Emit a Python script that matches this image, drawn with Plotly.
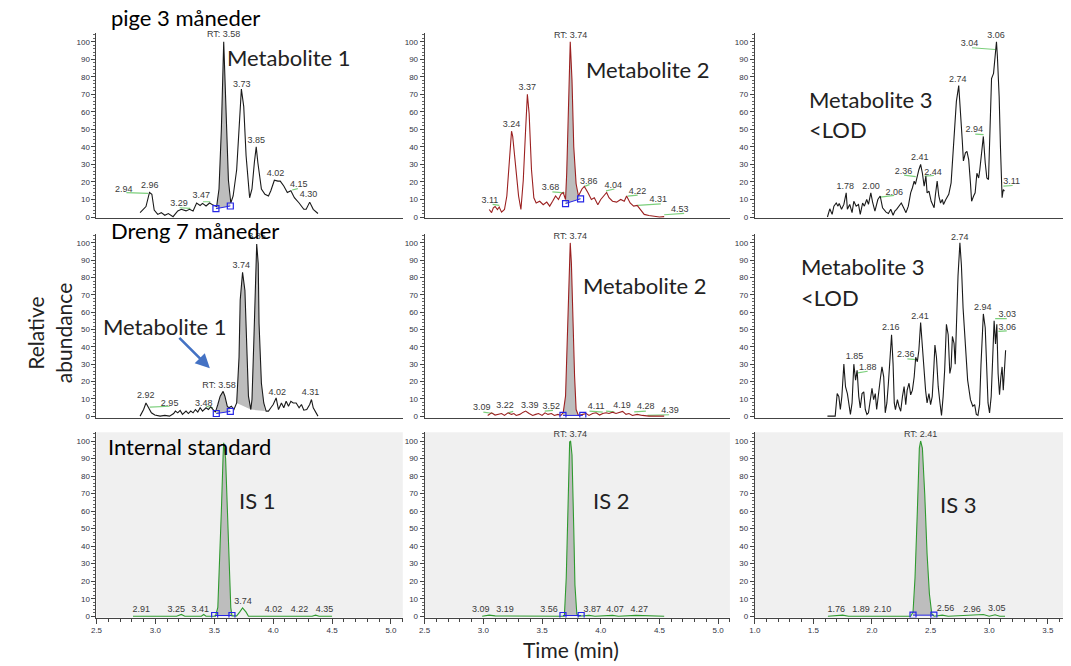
import plotly.graph_objects as go

W, H = 1071, 666
OFF = 0

# ---------------- data (time in min, relative abundance %) ----------------
# Panel 1: pige 3 måneder, Metabolite 1
p1_t = [2.87, 2.92, 2.95, 2.97, 2.99, 3.02, 3.05, 3.08, 3.11, 3.15, 3.19, 3.22, 3.26, 3.29, 3.32, 3.35,
        3.38, 3.40, 3.43, 3.46, 3.49, 3.52, 3.54, 3.56, 3.58, 3.60, 3.62, 3.64, 3.66, 3.69, 3.72, 3.73,
        3.75, 3.77, 3.80, 3.82, 3.84, 3.856, 3.87, 3.90, 3.93, 3.96, 3.98, 4.01, 4.04, 4.06, 4.09, 4.12,
        4.15, 4.18, 4.22, 4.26, 4.28, 4.31, 4.34, 4.38]
p1_v = [2.5, 6, 14, 13, 4, 1.5, 2.5, 1, 2, 0.2, 3.5, 4.4, 3.5, 4.4, 3.4, 8,
        6.6, 7.8, 6.3, 8, 6.8, 6, 16, 50, 100, 60, 21, 8, 12, 27, 63, 73,
        63, 35, 11, 16, 31, 40, 31, 16, 13, 12, 15, 21, 20.5, 20.5, 17.7, 14,
        15, 11, 8, 4.4, 4.4, 8.5, 4.4, 2]
p1_sq_t = [3.514, 3.636]
p1_sq_v = [4.75, 6.3]
p1_lbl_t = [3.58, 3.734, 3.856, 4.02, 4.217, 4.30, 2.732, 2.952, 3.20, 3.39]
p1_lbl_v = [103.8, 75.7, 43.3, 24.9, 18.3, 12.5, 15.8, 17.7, 7.8, 12.0]
p1_lbl = ["RT: 3.58", "3.73", "3.85", "4.02", "4.15", "4.30", "2.94", "2.96", "3.29", "3.47"]
p1_gr = [(2.754, 13.9, 2.938, 13.5), (3.206, 5.3, 3.297, 4.9), (3.404, 8.7, 3.466, 8.7), (4.161, 15.4, 4.209, 16.2)]

# Panel 2: pige 3 måneder, Metabolite 2
p2_t = [3.05, 3.07, 3.085, 3.10, 3.12, 3.135, 3.155, 3.18, 3.20, 3.22, 3.24, 3.25, 3.28, 3.30, 3.32, 3.34,
        3.36, 3.375, 3.39, 3.41, 3.43, 3.45, 3.48, 3.51, 3.54, 3.565, 3.59, 3.615, 3.64, 3.66, 3.68, 3.70,
        3.71, 3.725, 3.74, 3.755, 3.77, 3.79, 3.81, 3.84, 3.86, 3.89, 3.92, 3.945, 3.975, 4.00, 4.025, 4.05,
        4.07, 4.10, 4.135, 4.17, 4.20, 4.22, 4.25, 4.28, 4.31, 4.34, 4.37, 4.41, 4.455, 4.50, 4.54]
p2_v = [4.3, 2.5, 5.3, 6, 4.3, 5.7, 2.8, 4.3, 12, 31, 49, 46, 27, 12, 4.3, 21,
        50, 70, 59, 27, 11, 8, 9, 7, 8.5, 6.2, 9, 12, 10, 13, 14, 10,
        25, 59, 100, 78, 40, 19, 12, 16, 17.5, 14, 10, 11, 7, 10, 12, 14,
        11, 9, 8.5, 10, 9, 12, 8, 6.2, 6.6, 4.3, 1.5, 0.9, 0.6, 0, 0.2]
p2_sq_t = [3.70, 3.828]
p2_sq_v = [7.7, 10.4]
p2_lbl_t = [3.743, 3.24, 3.373, 3.056, 3.571, 3.898, 4.107, 4.314, 4.489, 4.672]
p2_lbl_v = [103.4, 52.5, 73.6, 9.1, 16.8, 20.4, 17.9, 14.2, 9.6, 4.0]
p2_lbl = ["RT: 3.74", "3.24", "3.37", "3.11", "3.68", "3.86", "4.04", "4.22", "4.31", "4.53"]
p2_gr = [(3.079, 7.2, 3.136, 6.6), (3.588, 14.3, 3.692, 13.8), (3.861, 17.5, 3.904, 18.5),
         (4.045, 14.9, 4.116, 16.0), (4.229, 11.9, 4.314, 12.5), (4.314, 6.6, 4.511, 7.5), (4.54, 1.3, 4.71, 2.1)]

# Panel 3: pige 3 måneder, Metabolite 3
p3_t = [1.62, 1.63, 1.64, 1.66, 1.675, 1.695, 1.71, 1.72, 1.74, 1.76, 1.78, 1.79, 1.81, 1.83, 1.845, 1.865,
        1.885, 1.90, 1.92, 1.935, 1.955, 1.97, 1.99, 2.005, 2.025, 2.05, 2.07, 2.09, 2.12, 2.14, 2.16, 2.18,
        2.195, 2.21, 2.23, 2.25, 2.27, 2.29, 2.31, 2.33, 2.345, 2.36, 2.37, 2.385, 2.40, 2.415, 2.43, 2.445,
        2.46, 2.47, 2.486, 2.505, 2.53, 2.54, 2.556, 2.57, 2.585, 2.60, 2.61, 2.63, 2.655, 2.675, 2.69, 2.706,
        2.72, 2.74, 2.754, 2.77, 2.78, 2.797, 2.81, 2.825, 2.84, 2.85, 2.867, 2.88, 2.895, 2.91, 2.92, 2.94,
        2.95, 2.966, 2.98, 2.994, 3.01, 3.02, 3.037, 3.05, 3.062, 3.07, 3.085, 3.096, 3.105, 3.11, 3.12, 3.13]
p3_v = [0, 3.4, 4.7, 1.5, 6.2, 8, 6.2, 7.8, 4.4, 7.2, 13.8, 4.4, 7.2, 2.5, 9, 6.2,
        7.2, 1.5, 8, 6.2, 10, 7.2, 13.8, 8.5, 3.4, 10, 12, 5.3, 2.8, 2, 4.4, 1,
        3.4, 4.4, 6.2, 8, 5.3, 2.5, 6.2, 13.8, 16.7, 20.5, 18.6, 23.3, 27, 30, 25, 17.6,
        23.3, 13.8, 14.8, 9, 5.3, 12, 20.5, 12, 8, 10, 7.2, 10, 13, 19.5, 34.7, 53.6,
        66, 75, 63, 44, 32, 36.6, 37.5, 32.8, 19.5, 9, 12, 13.8, 25, 22.3, 27, 42,
        46, 31, 22.3, 21.4, 64, 79, 82, 90.5, 100, 91.5, 68.7, 40, 20.5, 11, 15.7, 14.8]
p3_lbl_t = [3.059, 2.833, 2.732, 2.873, 2.407, 2.268, 2.52, 1.771, 1.992, 2.189, 3.192]
p3_lbl_v = [103.4, 98.7, 78.2, 49.8, 33.7, 25.6, 25.2, 17.0, 17.0, 13.8, 19.9]
p3_lbl = ["3.06", "3.04", "2.74", "2.94", "2.41", "2.36", "2.44", "1.78", "2.00", "2.06", "3.11"]
p3_gr = [(2.853, 96.6, 3.051, 95.6), (2.881, 47.3, 2.952, 47.0), (2.274, 23.9, 2.373, 23.1),
         (2.449, 23.3, 2.528, 23.7), (2.071, 11.4, 2.189, 12.3), (3.121, 17.6, 3.20, 18.0)]

# Panel 4: Dreng 7 måneder, Metabolite 1
p4_t = [2.87, 2.90, 2.92, 2.94, 2.966, 2.995, 3.04, 3.08, 3.12, 3.155, 3.17, 3.19, 3.21, 3.23, 3.26, 3.28,
        3.30, 3.32, 3.34, 3.36, 3.38, 3.40, 3.43, 3.45, 3.47, 3.49, 3.51, 3.53, 3.55, 3.575, 3.59, 3.61,
        3.625, 3.645, 3.667, 3.69, 3.71, 3.72, 3.74, 3.76, 3.777, 3.79, 3.81, 3.82, 3.836, 3.85, 3.86, 3.873,
        3.88, 3.90, 3.92, 3.94, 3.96, 3.98, 4.00, 4.025, 4.045, 4.07, 4.09, 4.11, 4.13, 4.15, 4.17, 4.195,
        4.22, 4.24, 4.26, 4.285, 4.31, 4.325, 4.34, 4.38]
p4_v = [0, 3.8, 7.6, 4.8, 1.9, 0.6, 0, 0.4, 0, 1.5, 2.9, 1.9, 3.3, 1, 2.9, 1.5,
        2.9, 1.9, 3.8, 2.3, 4.8, 2.9, 4.8, 3.8, 5.3, 3.8, 2.3, 6.7, 11.5, 14.3, 11.5, 5.7,
        4.8, 5.7, 3.8, 7.6, 34, 67, 83, 72.5, 38, 11.5, 3.8, 9.6, 44, 82, 99.4, 88,
        53.5, 19, 7.6, 2.9, 2.9, 4.8, 6.7, 10.5, 3.8, 7.6, 4.8, 8.6, 5.7, 8.6, 7.6, 7.6,
        4.8, 6.7, 3.4, 3.8, 6.7, 9.6, 4.8, 0]
p4_sq_t = [3.517, 3.636]
p4_sq_v = [1.5, 2.7]
p4_big_t = [3.69, 3.81, 3.93]
p4_big_v = [7.6, 3.8, 2.9]
p4_lbl_t = [3.862, 3.54, 3.729, 2.918, 3.121, 3.41, 4.034, 4.316]
p4_lbl_v = [103.3, 17.8, 87.0, 11.5, 7.1, 7.1, 13.4, 13.4]
p4_lbl = ["3.85", "RT: 3.58", "3.74", "2.92", "2.95", "3.48", "4.02", "4.31"]
p4_gr = [(2.952, 5.2, 3.121, 5.7), (3.432, 5.7, 3.489, 4.8)]

# Panel 5: Dreng 7 måneder, Metabolite 2
p5_t = [3.037, 3.07, 3.10, 3.127, 3.155, 3.18, 3.21, 3.24, 3.26, 3.28, 3.31, 3.34, 3.36, 3.39, 3.42, 3.446,
        3.47, 3.50, 3.525, 3.55, 3.58, 3.605, 3.635, 3.66, 3.68, 3.70, 3.715, 3.73, 3.74, 3.75, 3.763, 3.777,
        3.79, 3.81, 3.847, 3.876, 3.90, 3.93, 3.96, 3.99, 4.017, 4.045, 4.07, 4.10, 4.13, 4.16, 4.186, 4.215,
        4.24, 4.27, 4.31, 4.355, 4.41, 4.54]
p5_v = [0.4, 1.9, 0.6, 1, 1.5, 0.4, 1.9, 1, 1.5, 0.4, 1, 2.3, 2.9, 1.5, 0.4, 1,
        1.5, 0.4, 1.9, 1, 1.5, 0.4, 1, 0.4, 1.9, 11.5, 44, 88, 100, 88, 53.5, 23,
        3.8, 0.4, 1, 1.5, 0.4, 1.5, 1.9, 0.6, 1.5, 1.9, 1.5, 2.3, 1.5, 2.3, 2.7, 1,
        1.5, 0.4, 1, 0.4, 0, 0]
p5_sq_t = [3.678, 3.847]
p5_sq_v = [0.4, 0.4]
p5_lbl_t = [3.74, 2.986, 3.184, 3.395, 3.579, 3.96, 4.181, 4.384, 4.59]
p5_lbl_v = [103.6, 4.8, 5.7, 6.1, 5.4, 5.4, 6.1, 5.4, 2.9]
p5_lbl = ["RT: 3.74", "3.09", "3.22", "3.39", "3.52", "4.11", "4.19", "4.28", "4.39"]
p5_gr = [(3.0, 2.3, 3.085, 1.5), (3.212, 1.9, 3.254, 2.7), (3.523, 2.9, 3.593, 3.3), (3.904, 2.9, 4.017, 2.3),
         (4.045, 2.9, 4.116, 2.5), (4.285, 2.5, 4.384, 2.9), (4.398, 0.4, 4.582, 0.8)]

# Panel 6: Dreng 7 måneder, Metabolite 3
p6_t = [1.62, 1.686, 1.703, 1.717, 1.73, 1.743, 1.76, 1.774, 1.79, 1.80, 1.816, 1.83, 1.845, 1.86, 1.873, 1.887,
        1.90, 1.915, 1.93, 1.943, 1.957, 1.97, 1.986, 2.00, 2.014, 2.028, 2.04, 2.056, 2.07, 2.085, 2.10, 2.113,
        2.127, 2.14, 2.155, 2.167, 2.18, 2.19, 2.20, 2.217, 2.23, 2.245, 2.26, 2.274, 2.288, 2.30, 2.316, 2.33,
        2.345, 2.36, 2.373, 2.387, 2.40, 2.415, 2.43, 2.443, 2.457, 2.47, 2.486, 2.50, 2.514, 2.528, 2.537, 2.55,
        2.565, 2.58, 2.593, 2.607, 2.62, 2.635, 2.65, 2.664, 2.675, 2.686, 2.70, 2.71, 2.72, 2.734, 2.75, 2.763,
        2.777, 2.797, 2.816, 2.84, 2.86, 2.876, 2.89, 2.904, 2.918, 2.93, 2.94, 2.95, 2.966, 2.98, 2.99, 3.003,
        3.017, 3.03, 3.042, 3.054, 3.065, 3.076, 3.088, 3.10, 3.11, 3.12, 3.133, 3.14]
p6_v = [0, 0, 13, 11.4, 3.8, 11.4, 30, 17, 13, 7.6, 1, 7.6, 30, 20.8, 26.5, 11.4,
        4.7, 13, 14, 3.8, 1, 1.9, 9.5, 16, 9.5, 13, 3.8, 14, 21, 28.4, 22.7, 1.9,
        7.6, 19, 34, 47, 30, 7.6, 3.8, 9.5, 5.7, 2.8, 11.4, 17, 6.6, 15, 19, 12.3,
        15, 22.7, 34, 31.4, 38, 54, 40, 26.5, 15, 7.6, 13, 6.6, 11.4, 28.4, 41, 34,
        17, 7.6, 0.4, 11.4, 26.5, 53, 47, 24.6, 28.4, 46, 42, 30, 53, 81, 100, 87,
        62.5, 38, 20.8, 9.5, 5.7, 6.6, 1, 0.4, 6.6, 30, 51, 59, 51, 30, 7.6, 1.9,
        11.4, 34, 55, 41.7, 53, 24.6, 12.3, 22.7, 28.4, 15, 34, 38]
p6_lbl_t = [2.749, 2.944, 3.155, 3.155, 2.41, 2.161, 2.288, 1.85, 1.963]
p6_lbl_v = [103.2, 62.5, 58.7, 51.1, 57.2, 50.8, 35.4, 34.1, 27.8]
p6_lbl = ["2.74", "2.94", "3.03", "3.06", "2.41", "2.16", "2.36", "1.85", "1.88"]
p6_gr = [(3.051, 56.3, 3.15, 56.3), (3.079, 48.9, 3.15, 49.2), (2.302, 33.1, 2.381, 32.6), (1.879, 25.0, 1.963, 25.9)]

# Panel 7: Internal standard 1
p7_t = [2.81, 3.18, 3.22, 3.25, 3.39, 3.41, 3.43, 3.51, 3.53, 3.545, 3.56, 3.575, 3.58, 3.596, 3.61, 3.624,
        3.64, 3.65, 3.69, 3.715, 3.74, 3.77, 3.79, 4.33, 4.36, 4.39, 4.50]
p7_v = [0, 0, 1, 0, 0, 1, 0, 0, 5, 28, 60, 92, 99, 90, 60, 28,
        5, 0.2, 0.2, 2.3, 4.7, 2.3, 0, 0, 0.6, 0, 0]
p7_sq_t = [3.503, 3.65]
p7_sq_v = [0.4, 0.4]
p7_lbl_t = [2.881, 3.178, 3.381, 3.743, 4.003, 4.223, 4.435]
p7_lbl_v = [3.6, 3.6, 3.6, 8.5, 3.6, 3.6, 3.6]
p7_lbl = ["2.91", "3.25", "3.41", "3.74", "4.02", "4.22", "4.35"]

# Panel 8: Internal standard 2
p8_t = [2.99, 3.05, 3.10, 3.60, 3.69, 3.706, 3.72, 3.735, 3.743, 3.755, 3.77, 3.78, 3.796, 3.81, 3.90, 3.95,
        4.10, 4.15, 4.30, 4.54]
p8_v = [0, 0.6, 0.2, 0, 0, 22, 69, 99.5, 100, 92, 50, 18, 1.3, 0, 0.5, 0,
        0.5, 0, 0.5, 0]
p8_sq_t = [3.678, 3.833]
p8_sq_v = [0.4, 0.4]
p8_lbl_t = [3.74, 2.977, 3.184, 3.559, 3.927, 4.121, 4.328]
p8_lbl_v = [103.8, 3.6, 3.6, 3.6, 3.6, 3.6, 3.6]
p8_lbl = ["RT: 3.74", "3.09", "3.19", "3.56", "3.87", "4.07", "4.27"]

# Panel 9: Internal standard 3
p9_t = [1.624, 1.75, 1.80, 2.33, 2.35, 2.367, 2.387, 2.404, 2.415, 2.43, 2.45, 2.47, 2.49, 2.51, 2.53, 2.60,
        2.65, 2.85, 2.95, 3.00, 3.05, 3.09, 3.135]
p9_v = [0, 0.6, 0, 0, 2.3, 22, 60, 96, 100, 96, 69.6, 35.5, 12.7, 1.3, 0, 0.6,
        0, 0.4, 1, 0, 0.8, 0, 0]
p9_sq_t = [2.35, 2.528]
p9_sq_v = [0.6, 0.6]
p9_lbl_t = [2.415, 1.695, 1.907, 2.09, 2.627, 2.853, 3.065]
p9_lbl_v = [103.8, 3.6, 3.6, 3.6, 4.2, 3.6, 4.2]
p9_lbl = ["RT: 2.41", "1.76", "1.89", "2.10", "2.56", "2.96", "3.05"]

x_range_a = [2.5, 5.1]
x_range_b = [1.0, 3.63]
y_range = [-0.8, 105]

# ---------------- styling ----------------
BLACK = "#1a1a1a"
DRED = "#9b2020"
GREEN = "#2f9a2f"
FILL = "#bdbdbd"
LEAD = "#7ccf7c"
BLUE = "#2626e6"
LBLC = "#3a3a3a"
LFONT = "Liberation Sans, Arial, sans-serif"
BFONT = "Lato, Open Sans, sans-serif"

fig = go.Figure()

# reference-pixel geometry of the panels
col_px = [(91, 399), (421, 728), (753, 1063)]
row_px = [(218, 1.76), (418, 1.74), (619, 1.76)]  # (pixel of y=0, px per unit)


def fx(px):
    return (px - OFF) / W


def fy(py):
    return 1 - (py - OFF) / H


def xref_name(i):
    return "x" if i == 1 else f"x{i}"


def yref_name(i):
    return "y" if i == 1 else f"y{i}"


def add_line(i, t, v, color, width=1.1):
    fig.add_trace(go.Scatter(x=t, y=v, mode="lines", line=dict(color=color, width=width),
                             xaxis=xref_name(i), yaxis=yref_name(i), hoverinfo="skip", showlegend=False))


def add_fill(i, t, v, sq_t, sq_v):
    xs = [sq_t[0]] + [a for a in t if sq_t[0] < a < sq_t[1]] + [sq_t[1]]
    ys = [sq_v[0]] + [b for a, b in zip(t, v) if sq_t[0] < a < sq_t[1]] + [sq_v[1]]
    fig.add_trace(go.Scatter(x=xs, y=ys, mode="lines", fill="toself", fillcolor=FILL,
                             line=dict(width=0, color=FILL),
                             xaxis=xref_name(i), yaxis=yref_name(i), hoverinfo="skip", showlegend=False))


def add_squares(i, sq_t, sq_v):
    fig.add_trace(go.Scatter(x=sq_t, y=sq_v, mode="lines+markers",
                             line=dict(color=BLUE, width=1),
                             marker=dict(symbol="square-open", size=6, color=BLUE, line=dict(width=1.2, color=BLUE)),
                             xaxis=xref_name(i), yaxis=yref_name(i), hoverinfo="skip", showlegend=False))


def add_leads(i, segs):
    for (a0, b0, a1, b1) in segs:
        fig.add_trace(go.Scatter(x=[a0, a1], y=[b0, b1], mode="lines", line=dict(color=LEAD, width=1.2),
                                 xaxis=xref_name(i), yaxis=yref_name(i), hoverinfo="skip", showlegend=False))


def add_labels(i, lt, lv, lab):
    fig.add_trace(go.Scatter(x=lt, y=lv, mode="text", text=lab, textposition="middle center",
                             textfont=dict(family=LFONT, size=9, color=LBLC), cliponaxis=False,
                             xaxis=xref_name(i), yaxis=yref_name(i), hoverinfo="skip", showlegend=False))


panels = [
    dict(t=p1_t, v=p1_v, c=BLACK, sq=(p1_sq_t, p1_sq_v), lbl=(p1_lbl_t, p1_lbl_v, p1_lbl), gr=p1_gr),
    dict(t=p2_t, v=p2_v, c=DRED, sq=(p2_sq_t, p2_sq_v), lbl=(p2_lbl_t, p2_lbl_v, p2_lbl), gr=p2_gr),
    dict(t=p3_t, v=p3_v, c=BLACK, sq=None, lbl=(p3_lbl_t, p3_lbl_v, p3_lbl), gr=p3_gr),
    dict(t=p4_t, v=p4_v, c=BLACK, sq=(p4_sq_t, p4_sq_v), lbl=(p4_lbl_t, p4_lbl_v, p4_lbl), gr=p4_gr),
    dict(t=p5_t, v=p5_v, c=DRED, sq=(p5_sq_t, p5_sq_v), lbl=(p5_lbl_t, p5_lbl_v, p5_lbl), gr=p5_gr),
    dict(t=p6_t, v=p6_v, c=BLACK, sq=None, lbl=(p6_lbl_t, p6_lbl_v, p6_lbl), gr=p6_gr),
    dict(t=p7_t, v=p7_v, c=GREEN, sq=(p7_sq_t, p7_sq_v), lbl=(p7_lbl_t, p7_lbl_v, p7_lbl), gr=[]),
    dict(t=p8_t, v=p8_v, c=GREEN, sq=(p8_sq_t, p8_sq_v), lbl=(p8_lbl_t, p8_lbl_v, p8_lbl), gr=[]),
    dict(t=p9_t, v=p9_v, c=GREEN, sq=(p9_sq_t, p9_sq_v), lbl=(p9_lbl_t, p9_lbl_v, p9_lbl), gr=[]),
]

layout_axes = {}
shapes = []
for idx, p in enumerate(panels):
    i = idx + 1
    r, c = idx // 3, idx % 3
    x0p, x1p = col_px[c]
    zero_px, s = row_px[r]
    bot_px = zero_px - y_range[0] * s
    top_px = zero_px - y_range[1] * s
    xdom = [fx(x0p), fx(x1p)]
    ydom = [fy(bot_px), fy(top_px)]
    xr = x_range_b if c == 2 else x_range_a
    bottom_row = (r == 2)
    xa = dict(domain=xdom, range=xr, anchor=yref_name(i), showline=True, linecolor="#444", linewidth=1,
              showgrid=False, zeroline=False, fixedrange=True,
              tickfont=dict(family=LFONT, size=8, color="#333344"))
    if bottom_row:
        xa.update(ticks="outside", ticklen=5, tickwidth=1, tickcolor="#444", dtick=0.5, tick0=0,
                  tickformat=".1f", showticklabels=True,
                  minor=dict(ticks="outside", ticklen=3, dtick=0.1, tickcolor="#444"))
    else:
        xa.update(ticks="", showticklabels=False)
    ya = dict(domain=ydom, range=y_range, anchor=xref_name(i), showline=True, linecolor="#444", linewidth=1,
              showgrid=False, zeroline=False, fixedrange=True, ticks="outside", ticklen=4, tickcolor="#444",
              tickvals=list(range(0, 101, 10)), tickfont=dict(family=LFONT, size=8, color="#333344"),
              minor=dict(ticks="outside", ticklen=2, dtick=2, tickcolor="#666"))
    layout_axes["xaxis" if i == 1 else f"xaxis{i}"] = xa
    layout_axes["yaxis" if i == 1 else f"yaxis{i}"] = ya
    if bottom_row:
        shapes.append(dict(type="rect", xref=f"{xref_name(i)} domain", yref=f"{yref_name(i)} domain",
                           x0=0, x1=1, y0=0, y1=1, fillcolor="#f0f0f0", line=dict(width=0), layer="below"))

    if p["sq"] is not None:
        add_fill(i, p["t"], p["v"], p["sq"][0], p["sq"][1])
    if i == 4:
        add_fill(i, p["t"], p["v"], p4_big_t[0:2], p4_big_v[0:2])
        add_fill(i, p["t"], p["v"], p4_big_t[1:3], p4_big_v[1:3])
    add_leads(i, p["gr"])
    add_line(i, p["t"], p["v"], p["c"])
    if p["sq"] is not None:
        add_squares(i, p["sq"][0], p["sq"][1])
    add_labels(i, *p["lbl"])


def ann(text, px, py, size=22, xanchor="left", color="#111"):
    return dict(text=text, x=fx(px), y=fy(py), xref="paper", yref="paper", showarrow=False,
                xanchor=xanchor, yanchor="middle",
                font=dict(family=BFONT, size=size, color=color))


annotations = [
    ann("pige 3 måneder", 104, 18, size=22, color="#000"),
    ann("Dreng 7 måneder", 104, 232, size=22, color="#000"),
    ann("Internal standard", 101, 449, size=22, color="#000"),
    ann("Metabolite 1", 220, 58, color="#222"),
    ann("Metabolite 2", 581, 70, color="#222"),
    ann("Metabolite 3", 806, 100, color="#222"),
    ann("<LOD", 806, 130, color="#222"),
    ann("Metabolite 1", 96, 328, color="#222"),
    ann("Metabolite 2", 578, 287, color="#222"),
    ann("Metabolite 3", 797, 268, color="#222"),
    ann("<LOD", 797, 299, color="#222"),
    ann("IS 1", 232, 503, color="#222"),
    ann("IS 2", 588, 503, color="#222"),
    ann("IS 3", 937, 507, color="#222"),
    ann("Time (min)", 568, 652, size=21, xanchor="center", color="#222"),
    dict(text="Relative<br>abundance", x=fx(44), y=fy(335), xref="paper", yref="paper", showarrow=False,
         xanchor="center", yanchor="middle", textangle=-90,
         font=dict(family=BFONT, size=21, color="#222")),
    dict(text="", x=fx(205), y=fy(370), xref="paper", yref="paper", showarrow=True,
         ax=-32, ay=-32, arrowhead=2, arrowsize=1.1, arrowwidth=2.6, arrowcolor="#4472C4"),
]

fig.update_layout(width=W, height=H, margin=dict(l=0, r=0, t=0, b=0), plot_bgcolor="white",
                  paper_bgcolor="white", showlegend=False, shapes=shapes, annotations=annotations,
                  **layout_axes)

fig.write_html("out.html", config={"displayModeBar": False},
               post_script="document.body.style.margin='0px';document.body.style.overflow='hidden';")
